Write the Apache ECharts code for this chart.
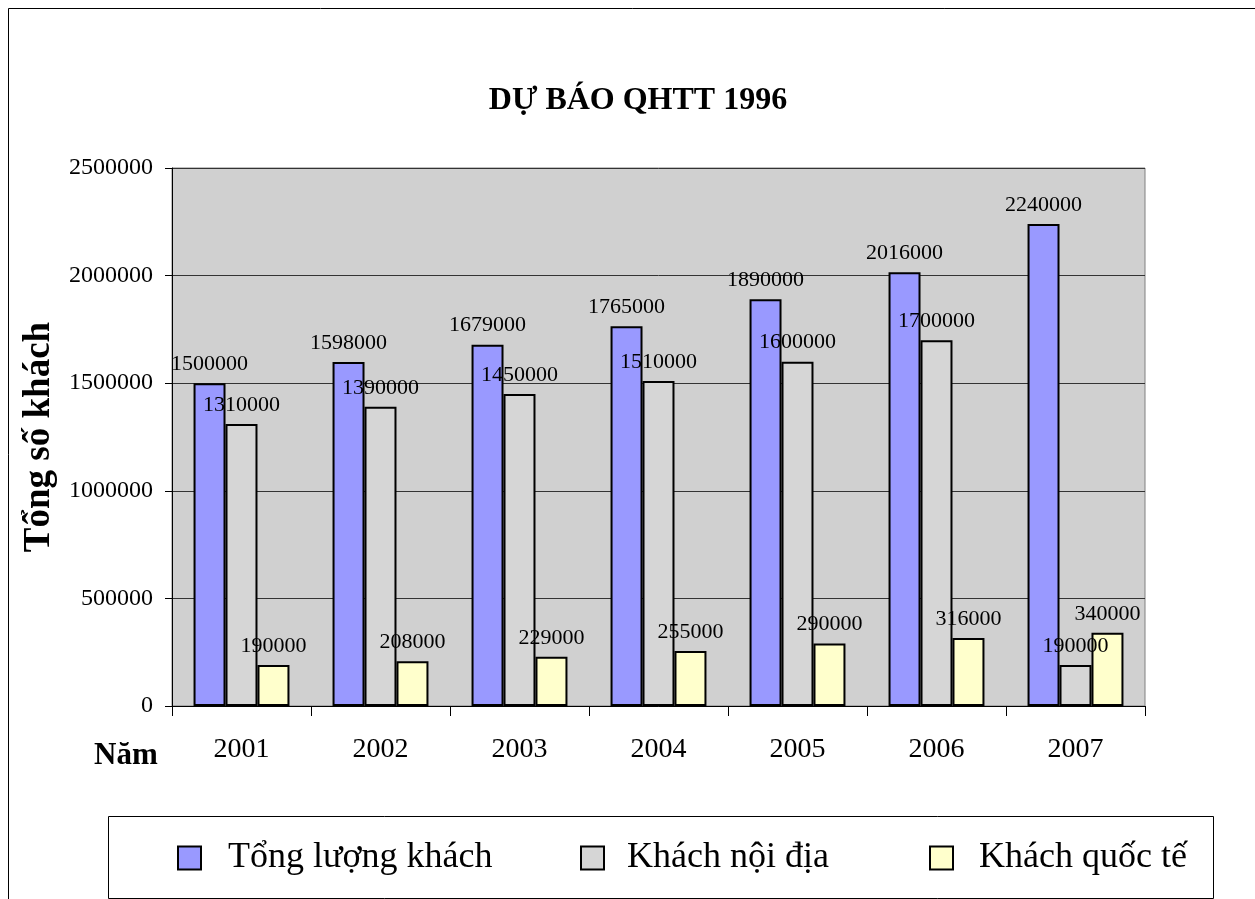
<!DOCTYPE html>
<html><head><meta charset="utf-8">
<script src="https://cdn.jsdelivr.net/npm/echarts@6/dist/echarts.min.js"></script>
<style>html,body{margin:0;padding:0;background:#fff}#c{width:1255px;height:899px}</style>
</head><body><div id="c"></div>
<script>
const years = ['2001','2002','2003','2004','2005','2006','2007'];
const tongLuong = [1500000,1598000,1679000,1765000,1890000,2016000,2240000];
const noiDia = [1310000,1390000,1450000,1510000,1600000,1700000,190000];
const quocTe = [190000,208000,229000,255000,290000,316000,340000];
const seriesNames = ['Tổng lượng khách','Khách nội địa','Khách quốc tế'];
const FONT = '"Liberation Serif","Times New Roman",serif';

const chart = echarts.init(document.getElementById('c'), null, {renderer:'canvas'});
const lbl = {show:true, position:'top', distance:8, color:'#000', fontFamily:FONT, fontSize:22};
const mkLegend = (name, left, pad) => ({
  data:[name], left:left, top:835, orient:'horizontal',
  itemWidth:23, itemHeight:23, icon:'rect',
  itemStyle:{borderColor:'#000', borderWidth:2},
  textStyle:{fontFamily:FONT, fontSize:36, color:'#000', padding:[0,0,0,pad]},
  selectedMode:false
});
chart.setOption({
  animation:false,
  backgroundColor:'#fff',
  title:{text:'DỰ BÁO QHTT 1996', left:633, top:80, textAlign:'center',
    textStyle:{fontFamily:FONT, fontWeight:'bold', fontSize:32, color:'#000'}},
  grid:{left:172, right:110, top:168, bottom:193, show:true, backgroundColor:'#d0d0d0', borderColor:'#808080', borderWidth:1},
  legend:[mkLegend(seriesNames[0],172,22), mkLegend(seriesNames[1],575,18), mkLegend(seriesNames[2],924,21)],
  xAxis:{type:'category', data:years,
    axisLine:{lineStyle:{color:'#000', width:1}},
    axisTick:{show:true, length:10, lineStyle:{color:'#000'}},
    axisLabel:{fontFamily:FONT, fontSize:28, color:'#000', margin:30}},
  yAxis:{type:'value', min:0, max:2500000, interval:500000,
    name:'Tổng số khách', nameLocation:'middle', nameGap:112, nameRotate:90,
    nameTextStyle:{fontFamily:FONT, fontWeight:'bold', fontSize:37, color:'#000'},
    axisLine:{show:true, lineStyle:{color:'#000'}},
    axisTick:{show:true, length:7, lineStyle:{color:'#000'}},
    axisLabel:{fontFamily:FONT, fontSize:24, color:'#000', margin:19, formatter:v=>String(v)},
    splitLine:{lineStyle:{color:'#333', width:1}}},
  series:[
    {name:seriesNames[0], type:'bar', data:tongLuong, barWidth:'23%', barGap:'0%', barCategoryGap:'31%',
      itemStyle:{color:'#9999ff', borderColor:'#000', borderWidth:2}, label:lbl},
    {name:seriesNames[1], type:'bar', data:noiDia, barWidth:'23%',
      itemStyle:{color:'#d6d6d6', borderColor:'#000', borderWidth:2}, label:lbl},
    {name:seriesNames[2], type:'bar', data:quocTe, barWidth:'23%',
      itemStyle:{color:'#ffffcc', borderColor:'#000', borderWidth:2}, label:lbl}
  ],
  graphic:[
    {type:'rect', shape:{x:8.5, y:8.5, width:1400, height:1000}, style:{fill:null, stroke:'#000', lineWidth:1}, silent:true, z:-1},
    {type:'rect', shape:{x:108.5, y:816.5, width:1105, height:82}, style:{fill:null, stroke:'#000', lineWidth:1}, silent:true},
    {type:'text', left:94, top:740, style:{text:'Năm', font:'bold 31px "Liberation Serif",serif', fill:'#000'}}
  ]
});
</script></body></html>
